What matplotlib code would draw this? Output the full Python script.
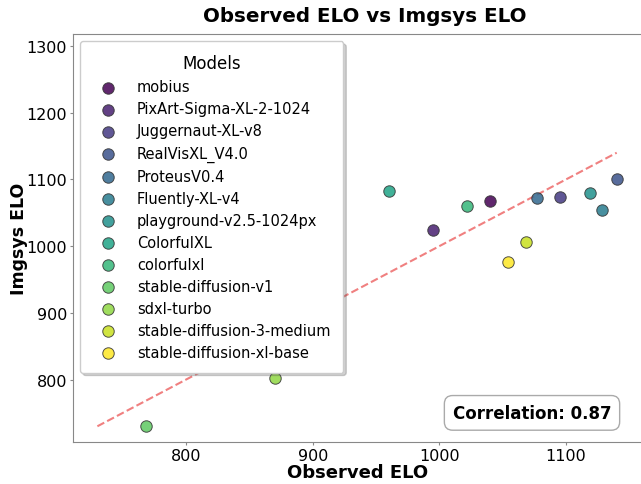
import numpy as np
import matplotlib
matplotlib.use("Agg")
import matplotlib.pyplot as plt

# model names in legend order
models = ["mobius", "PixArt-Sigma-XL-2-1024", "Juggernaut-XL-v8", "RealVisXL_V4.0",
          "ProteusV0.4", "Fluently-XL-v4", "playground-v2.5-1024px", "ColorfulXL",
          "colorfulxl", "stable-diffusion-v1", "sdxl-turbo",
          "stable-diffusion-3-medium", "stable-diffusion-xl-base"]
observed_elo = [1040, 995, 1095, 1140, 1077, 1128, 1119, 960, 1022, 768, 870, 1068, 1054]
imgsys_elo = [1067, 1024, 1073, 1101, 1072, 1054, 1079, 1082, 1060, 730, 802, 1006, 976]
corr_label = "Correlation: 0.87"

colors = plt.cm.viridis(np.linspace(0, 1, len(models)))

fig = plt.figure(figsize=(6.41, 4.85), dpi=100)
ax = fig.add_axes([0.1134, 0.086, 0.8892, 0.8419])

for name, x, y, c in zip(models, observed_elo, imgsys_elo, colors):
    ax.scatter(x, y, s=68, color=c, alpha=0.85, edgecolor="#333333", linewidth=0.7,
               label=name, zorder=3)

# identity line from overall min to overall max
lo = min(min(observed_elo), min(imgsys_elo))
hi = max(max(observed_elo), max(imgsys_elo))
ax.plot([lo, hi], [lo, hi], ls="--", color="#f08080", lw=1.5, zorder=2)

ax.set_xlim(710.5, 1160.5)
ax.set_ylim(706, 1318)
ax.set_xticks([800, 900, 1000, 1100])
ax.set_yticks([800, 900, 1000, 1100, 1200, 1300])
ax.tick_params(labelsize=11.5, length=2, pad=2, color="#888888")
for sp in ax.spines.values():
    sp.set_color("#888888")

ax.set_title("Observed ELO vs Imgsys ELO", fontsize=14.3, fontweight="bold", pad=9, x=0.513)
ax.set_xlabel("Observed ELO", fontsize=13, fontweight="bold", labelpad=0)
ax.set_ylabel("Imgsys ELO", fontsize=12.5, fontweight="bold", labelpad=-1)

leg = ax.legend(title="Models", loc="upper left", fontsize=10.5, title_fontsize=12,
                shadow={"alpha": 0.25}, borderpad=0.9, handletextpad=1.0, labelspacing=0.48)
leg.get_frame().set_edgecolor("#cccccc")

ax.text(0.945, 0.05, corr_label, transform=ax.transAxes, ha="right", va="bottom",
        fontsize=12, fontweight="bold",
        bbox=dict(boxstyle="round,pad=0.5", facecolor="white", edgecolor="#aaaaaa"))

fig.savefig("out.png", dpi=100)
